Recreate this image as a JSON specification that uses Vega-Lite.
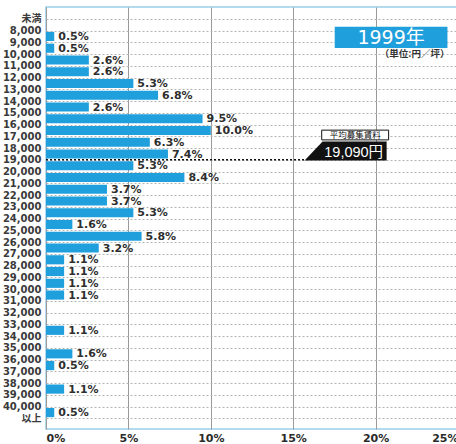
{
  "$schema": "https://vega.github.io/schema/vega-lite/v6.json",
  "autosize": {"type": "none"},
  "width": 412,
  "height": 422,
  "padding": {"left": 46, "top": 7, "right": 0, "bottom": 15},
  "background": "#ffffff",
  "config": {
    "view": {"stroke": "#9ad0ec", "strokeWidth": 1.5},
    "font": "DejaVu Sans, Noto Sans CJK JP",
    "axisY": {"labelOverlap": false}
  },
  "layer": [
    {
      "data": {
        "values": [
          {"lo": 7000, "hi": 8000, "share": 0},
          {"lo": 8000, "hi": 9000, "share": 0.005},
          {"lo": 9000, "hi": 10000, "share": 0.005},
          {"lo": 10000, "hi": 11000, "share": 0.026},
          {"lo": 11000, "hi": 12000, "share": 0.026},
          {"lo": 12000, "hi": 13000, "share": 0.053},
          {"lo": 13000, "hi": 14000, "share": 0.068},
          {"lo": 14000, "hi": 15000, "share": 0.026},
          {"lo": 15000, "hi": 16000, "share": 0.095},
          {"lo": 16000, "hi": 17000, "share": 0.100},
          {"lo": 17000, "hi": 18000, "share": 0.063},
          {"lo": 18000, "hi": 19000, "share": 0.074},
          {"lo": 19000, "hi": 20000, "share": 0.053},
          {"lo": 20000, "hi": 21000, "share": 0.084},
          {"lo": 21000, "hi": 22000, "share": 0.037},
          {"lo": 22000, "hi": 23000, "share": 0.037},
          {"lo": 23000, "hi": 24000, "share": 0.053},
          {"lo": 24000, "hi": 25000, "share": 0.016},
          {"lo": 25000, "hi": 26000, "share": 0.058},
          {"lo": 26000, "hi": 27000, "share": 0.032},
          {"lo": 27000, "hi": 28000, "share": 0.011},
          {"lo": 28000, "hi": 29000, "share": 0.011},
          {"lo": 29000, "hi": 30000, "share": 0.011},
          {"lo": 30000, "hi": 31000, "share": 0.011},
          {"lo": 31000, "hi": 32000, "share": 0},
          {"lo": 32000, "hi": 33000, "share": 0},
          {"lo": 33000, "hi": 34000, "share": 0.011},
          {"lo": 34000, "hi": 35000, "share": 0},
          {"lo": 35000, "hi": 36000, "share": 0.016},
          {"lo": 36000, "hi": 37000, "share": 0.005},
          {"lo": 37000, "hi": 38000, "share": 0},
          {"lo": 38000, "hi": 39000, "share": 0.011},
          {"lo": 39000, "hi": 40000, "share": 0},
          {"lo": 40000, "hi": 41000, "share": 0.005}
        ]
      },
      "layer": [
        {
          "mark": {"type": "bar", "orient": "horizontal", "color": "#1fa0dc", "yOffset": 1.3, "y2Offset": -1.3},
          "encoding": {
            "x": {
              "field": "share", "type": "quantitative", "stack": null,
              "scale": {"domain": [0, 0.25], "nice": false, "zero": true},
              "axis": {
                "title": null, "format": "%", "values": [0, 0.05, 0.1, 0.15, 0.2, 0.25], "tickCount": 20,
                "labelFlush": true, "labelFont": "DejaVu Sans", "labelFontWeight": "bold",
                "labelFontSize": 11, "labelColor": "#2a2a2a", "ticks": false, "tickSize": 0,
                "labelPadding": 3, "domain": false, "grid": true, "gridColor": "#9a9a9a",
                "gridWidth": 1
              }
            },
            "y": {
              "field": "lo", "type": "quantitative",
              "scale": {"domain": [6420, 41470], "reverse": true, "nice": false, "zero": false},
              "axis": {
                "title": null, "tickCount": 60,
                "values": [7000, 8000, 9000, 10000, 11000, 12000, 13000, 14000, 15000, 16000, 17000, 18000, 19000, 20000, 21000, 22000, 23000, 24000, 25000, 26000, 27000, 28000, 29000, 30000, 31000, 32000, 33000, 34000, 35000, 36000, 37000, 38000, 39000, 40000, 41000],
                "labelExpr": "datum.value == 7000 ? '未満' : datum.value == 41000 ? '以上' : format(datum.value, ',')",
                "labelFont": "DejaVu Sans, Noto Sans CJK JP", "labelFontWeight": "bold",
                "labelFontSize": 10, "labelColor": "#3a3a3a", "ticks": false, "tickSize": 0,
                "labelPadding": 5, "domain": false, "grid": true, "gridColor": "#b5b5b5",
                "gridDash": [2, 2], "gridWidth": 1, "labelOverlap": false, "labelBound": false
              }
            },
            "y2": {"field": "hi"}
          }
        },
        {
          "transform": [{"filter": "datum.share > 0"}],
          "mark": {"type": "text", "align": "left", "baseline": "middle", "dx": 4, "dy": 6.5, "font": "DejaVu Sans", "fontWeight": "bold", "fontSize": 11, "color": "#2e2e2e"},
          "encoding": {
            "x": {"field": "share", "type": "quantitative"},
            "y": {"field": "lo", "type": "quantitative"},
            "text": {"field": "share", "type": "quantitative", "format": ".1%"}
          }
        }
      ]
    },
    {
      "data": {"values": [{}]},
      "layer": [
        {
          "mark": {"type": "rule", "color": "#111111", "strokeWidth": 1.5, "strokeDash": [2, 2]},
          "encoding": {
            "x": {"datum": 0, "type": "quantitative"},
            "x2": {"datum": 0.157},
            "y": {"datum": 19000, "type": "quantitative"}
          }
        },
        {
          "mark": {"type": "point", "filled": true, "color": "#111111", "opacity": 1, "strokeWidth": 0, "size": 361,
            "shape": "M -4.32 1 L -2.42 -1 L 4.32 -1 L 4.32 1 Z"},
          "encoding": {
            "x": {"datum": 0.1818, "type": "quantitative"},
            "y": {"datum": 18255, "type": "quantitative"}
          }
        },
        {
          "mark": {"type": "text", "align": "center", "baseline": "middle", "font": "Liberation Sans, Noto Sans CJK JP", "fontSize": 14.5, "color": "#ffffff"},
          "encoding": {
            "x": {"datum": 0.1867, "type": "quantitative"},
            "y": {"datum": 18422, "type": "quantitative"},
            "text": {"value": "19,090円"}
          }
        },
        {
          "mark": {"type": "rect", "fill": "#ffffff", "stroke": "#111111", "strokeWidth": 1},
          "encoding": {
            "x": {"datum": 0.1673, "type": "quantitative"},
            "x2": {"datum": 0.2079},
            "y": {"datum": 16470, "type": "quantitative"},
            "y2": {"datum": 17300}
          }
        },
        {
          "mark": {"type": "text", "align": "center", "baseline": "middle", "font": "Noto Sans CJK JP", "fontSize": 8.5, "color": "#111111"},
          "encoding": {
            "x": {"datum": 0.1876, "type": "quantitative"},
            "y": {"datum": 16900, "type": "quantitative"},
            "text": {"value": "平均募集賃料"}
          }
        },
        {
          "mark": {"type": "rect", "fill": "#1fa0dc"},
          "encoding": {
            "x": {"datum": 0.1752, "type": "quantitative"},
            "x2": {"datum": 0.2436},
            "y": {"datum": 7666, "type": "quantitative"},
            "y2": {"datum": 9493}
          }
        },
        {
          "mark": {"type": "text", "align": "center", "baseline": "middle", "font": "DejaVu Sans, Noto Sans CJK JP", "fontSize": 19, "color": "#ffffff"},
          "encoding": {
            "x": {"datum": 0.2094, "type": "quantitative"},
            "y": {"datum": 8620, "type": "quantitative"},
            "text": {"value": "1999年"}
          }
        },
        {
          "mark": {"type": "text", "align": "right", "baseline": "middle", "font": "Noto Sans CJK JP", "fontWeight": "bold", "fontSize": 9.5, "color": "#333333"},
          "encoding": {
            "x": {"datum": 0.2448, "type": "quantitative"},
            "y": {"datum": 9990, "type": "quantitative"},
            "text": {"value": "（単位:円／坪）"}
          }
        }
      ]
    }
  ]
}
